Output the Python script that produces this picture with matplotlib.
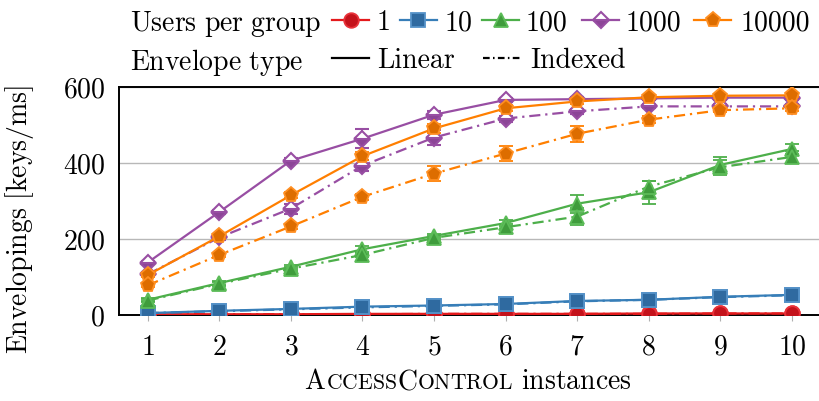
import numpy as np
import matplotlib
matplotlib.use('Agg')
import matplotlib.pyplot as plt
from matplotlib.lines import Line2D
from matplotlib.offsetbox import TextArea, HPacker, AnchoredOffsetbox

plt.rcParams['font.family'] = 'cmr10'
plt.rcParams['mathtext.fontset'] = 'cm'
plt.rcParams['axes.unicode_minus'] = False
plt.rcParams['axes.formatter.use_mathtext'] = True

# AccessControl instances
inst = np.arange(1, 11)

# throughput [keys/ms], linear envelopes
lin_1 = [2, 2, 2, 3, 3, 3, 3, 4, 4, 4]
lin_10 = [5, 11, 16, 22, 25, 29, 37, 40, 48, 53]
lin_100 = [40, 84, 127, 173, 208, 242, 293, 323, 395, 437]
lin_1000 = [138, 271, 406, 464, 527, 566, 568, 570, 572, 572]
lin_10000 = [105, 207, 315, 418, 491, 544, 562, 573, 577, 578]

# throughput [keys/ms], indexed envelopes
idx_1 = [2, 2, 2, 2, 3, 3, 3, 3, 4, 4]
idx_10 = [5, 10, 15, 20, 24, 28, 36, 40, 47, 52]
idx_100 = [38, 82, 122, 158, 203, 231, 259, 338, 389, 416]
idx_1000 = [107, 204, 280, 393, 467, 517, 536, 549, 549, 549]
idx_10000 = [78, 158, 233, 311, 372, 425, 477, 514, 539, 544]

# standard deviations
lin_err_1 = [1, 1, 1, 1, 1, 1, 1, 1, 1, 1]
lin_err_10 = [2, 2, 2, 2, 2, 2, 3, 3, 3, 3]
lin_err_100 = [4, 5, 5, 8, 6, 8, 24, 30, 20, 12]
lin_err_1000 = [5, 6, 6, 25, 10, 6, 5, 5, 5, 5]
lin_err_10000 = [5, 6, 8, 10, 12, 8, 6, 5, 5, 5]
idx_err_1 = [1, 1, 1, 1, 1, 1, 1, 1, 1, 1]
idx_err_10 = [2, 2, 2, 2, 2, 2, 3, 3, 3, 3]
idx_err_100 = [4, 5, 5, 6, 6, 8, 22, 15, 20, 15]
idx_err_1000 = [5, 6, 13, 15, 20, 8, 6, 5, 5, 5]
idx_err_10000 = [5, 5, 6, 8, 20, 21, 21, 10, 6, 6]

groups = ['1', '10', '100', '1000', '10000']
lin_vals = [lin_1, lin_10, lin_100, lin_1000, lin_10000]
idx_vals = [idx_1, idx_10, idx_100, idx_1000, idx_10000]
lin_errs = [lin_err_1, lin_err_10, lin_err_100, lin_err_1000, lin_err_10000]
idx_errs = [idx_err_1, idx_err_10, idx_err_100, idx_err_1000, idx_err_10000]

line_cols = ['#e41a1c', '#377eb8', '#4daf4a', '#984ea3', '#ff7f00']
face_cols = ['#c4121b', '#2f6aa0', '#3f9c3c', '#8c4597', '#dd6d00']
edge_cols = ['#e8323a', '#5592c8', '#5cbc58', '#984ea3', '#ff8f22']
markers = ['o', 's', '^', 'D', 'p']
msizes = [10.5, 10, 10, 8, 11]
dashdot = (0, (5, 2.2, 1, 2.2))
FS = 20


def marker_style(i):
    st = dict(marker=markers[i], markersize=msizes[i], markerfacecolor=face_cols[i],
              markeredgecolor=edge_cols[i], markeredgewidth=1.3)
    if markers[i] == 'D':
        st.update(fillstyle='bottom', markerfacecoloralt='white', markeredgewidth=1.5)
    return st


def rm(s):
    # upright math text keeps TeX word spacing
    return r'$\mathrm{' + s.replace(' ', r'\ ') + '}$'


W, H = 819, 401
fig = plt.figure(figsize=(W / 100, H / 100), dpi=100)
ax = fig.add_axes([119 / W, 1 - 315 / H, 1 - 119 / W + 0.002, 228 / H])

for i in range(5):
    ax.errorbar(inst, lin_vals[i], yerr=lin_errs[i], color=line_cols[i], lw=1.6,
                elinewidth=1.3, capsize=5, capthick=1.3, ecolor=line_cols[i],
                zorder=3 + i, **marker_style(i))
    ax.errorbar(inst, idx_vals[i], yerr=idx_errs[i], color=line_cols[i], lw=1.6,
                linestyle=dashdot, elinewidth=1.3, capsize=5, capthick=1.3,
                ecolor=line_cols[i], zorder=3 + i, **marker_style(i))

ax.set_xlim(0.6, 10.4)
ax.set_ylim(0, 600)
ax.set_xticks(inst)
ax.set_yticks([0, 200, 400, 600])
ax.yaxis.grid(True, color='#b8b8b8', lw=1.0)
ax.set_axisbelow(True)
ax.spines['right'].set_visible(False)
for s in ['top', 'bottom', 'left']:
    ax.spines[s].set_linewidth(1.4)
ax.tick_params(axis='x', length=4, width=0.8, color='#b0b0b0', labelsize=FS, pad=10)
ax.tick_params(axis='y', length=0, labelsize=FS, pad=10)
ax.set_ylabel(rm('Envelopings [keys/ms]'), fontsize=FS)
ax.yaxis.set_label_coords(-0.118, 0.42)

# small-caps x label
parts = [('A', FS), ('CCESS', FS * 0.78), ('C', FS), ('ONTROL', FS * 0.78), (' instances', FS)]
boxes = [TextArea(rm(s), textprops=dict(fontsize=fs)) for s, fs in parts]
pack = HPacker(children=boxes, align='baseline', pad=0, sep=0)
xl = AnchoredOffsetbox(loc='center', child=pack, bbox_to_anchor=(468 / W, 1 - 382 / H),
                       bbox_transform=fig.transFigure, frameon=False, pad=0, borderpad=0)
fig.add_artist(xl)


def px(x, y):
    return x / W, 1 - y / H


def legend_entry(x0, x1, y, label, text_x, **style):
    fig.add_artist(Line2D([x0 / W, x1 / W], [1 - y / H, 1 - y / H], transform=fig.transFigure,
                          color=style.pop('color'), lw=1.6, linestyle=style.pop('ls', '-')))
    if style:
        fig.add_artist(Line2D([(x0 + x1) / 2 / W], [1 - y / H], transform=fig.transFigure,
                              linestyle='none', **style))
    fig.text(*px(text_x, y), label, fontsize=FS, va='center_baseline', ha='left')


# legend, row 1: users per group
fig.text(*px(130, 20), rm('Users per group'), fontsize=FS, va='center_baseline', ha='left')
handle_x = [332, 400, 482, 582, 694]
label_x = [377, 445, 526, 626, 741]
for i in range(5):
    legend_entry(handle_x[i], handle_x[i] + 37, 20, groups[i], label_x[i],
                 color=line_cols[i], **marker_style(i))

# legend, row 2: envelope type
fig.text(*px(130, 58), rm('Envelope type'), fontsize=FS, va='center_baseline', ha='left')
legend_entry(332, 369, 58, 'Linear', 377, color='black')
legend_entry(483, 520, 58, 'Indexed', 530, color='black', ls=(0, (3, 1.5, 0.7, 1.5)))

fig.savefig('out.png', dpi=100)
